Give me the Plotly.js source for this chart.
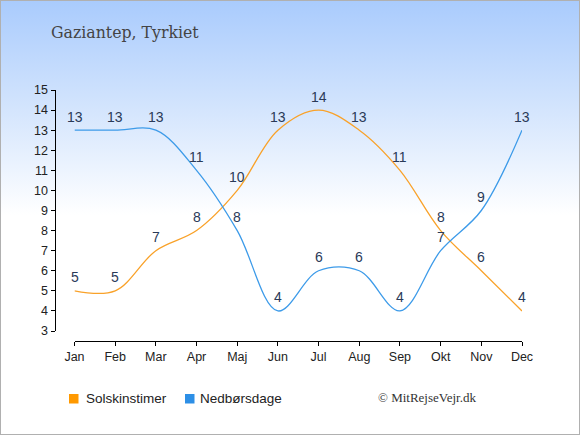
<!DOCTYPE html>
<html><head><meta charset="utf-8">
<script src="https://cdn.plot.ly/plotly-3.0.1.min.js"></script>
<style>
html,body{margin:0;padding:0;}
#wrap{position:relative;width:580px;height:435px;background:linear-gradient(to bottom,#a9cbfd 0px,#d4e5fd 110px,#ffffff 215px,#ffffff 435px);}
#chart{position:absolute;left:0;top:0;width:580px;height:435px;}
#frame{position:absolute;left:0;top:0;width:580px;height:435px;box-sizing:border-box;border:1px solid #b0b0b0;pointer-events:none;}
</style></head>
<body>
<div id="wrap"><div id="chart"></div><div id="frame"></div></div>
<script>
const months = ['Jan','Feb','Mar','Apr','Maj','Jun','Jul','Aug','Sep','Okt','Nov','Dec'];
const sunHours = [5,5,7,8,10,13,14,13,11,8,6,4];
const rainDays = [13,13,13,11,8,4,6,6,4,7,9,13];
const seriesNames = ['Solskinstimer','Nedbørsdage'];
const yTicks = [3,4,5,6,7,8,9,10,11,12,13,14,15];

const orange = '#f9a22a', blue = '#3d9be9';
const W = 580, H = 435;
const px = v => v / W, py = v => 1 - v / H;

const traces = [
  {x: months, y: sunHours, name: seriesNames[0], type:'scatter', mode:'lines',
   line:{color:orange, width:1.3, shape:'spline', smoothing:1}, showlegend:false, hoverinfo:'skip'},
  {x: months, y: rainDays, name: seriesNames[1], type:'scatter', mode:'lines',
   line:{color:blue, width:1.3, shape:'spline', smoothing:1}, showlegend:false, hoverinfo:'skip'}
];

const labelFont = {family:'Liberation Sans, Arial, sans-serif', size:14, color:'#2a3a58'};
const annotations = [];
[sunHours, rainDays].forEach(arr => arr.forEach((v,i) => {
  annotations.push({x: months[i], y: v, xref:'x', yref:'y', text: String(v), showarrow:false,
    yshift: 13.5, font: labelFont});
}));
// legend (manual)
const legFont = {family:'Liberation Sans, Arial, sans-serif', size:13.5, color:'#222'};
annotations.push({xref:'paper', yref:'paper', x:px(84), y:py(398.5), xanchor:'left', yanchor:'middle',
  text: seriesNames[0], showarrow:false, font: legFont});
annotations.push({xref:'paper', yref:'paper', x:px(198), y:py(398.5), xanchor:'left', yanchor:'middle',
  text: seriesNames[1], showarrow:false, font: legFont});
annotations.push({xref:'paper', yref:'paper', x:px(376), y:py(397.5), xanchor:'left', yanchor:'middle',
  text: '© MitRejseVejr.dk', showarrow:false, font:{family:'Liberation Serif, serif', size:13, color:'#333'}});

const shapes = [
  {type:'rect', xref:'paper', yref:'paper', x0:px(69), x1:px(78.5), y0:py(403.5), y1:py(394), fillcolor:'#ff9900', line:{width:0}},
  {type:'rect', xref:'paper', yref:'paper', x0:px(185), x1:px(194.5), y0:py(403.5), y1:py(394), fillcolor:'#2d8fe6', line:{width:0}}
];

const layout = {
  width: W, height: H,
  margin: {l:0, r:0, t:0, b:0},
  paper_bgcolor: 'rgba(0,0,0,0)', plot_bgcolor: 'rgba(0,0,0,0)',
  title: {text:'Gaziantep, Tyrkiet', x: px(51), xref:'paper', xanchor:'left', y: py(32), yref:'paper', yanchor:'middle',
    font:{family:'DejaVu Serif Condensed, DejaVu Serif, serif', size:17.5, color:'#444'}},
  xaxis: {type:'category', domain:[px(74.5), px(522)], range:[0, 11], anchor:'free', position: py(340.5),
    showline:true, linecolor:'#000', linewidth:1, ticks:'outside', ticklen:4, tickcolor:'#000',
    showgrid:false, zeroline:false, tickfont:{family:'Liberation Sans, Arial, sans-serif', size:12.5, color:'#222'},
    fixedrange:true},
  yaxis: {domain:[py(331), py(90)], range:[3, 15], anchor:'free', position: px(54.5),
    tickvals: yTicks, ticktext: yTicks.map(String),
    showline:true, linecolor:'#000', linewidth:1, ticks:'outside', ticklen:4, tickcolor:'#000',
    showgrid:false, zeroline:false, tickfont:{family:'Liberation Sans, Arial, sans-serif', size:12.5, color:'#222'},
    fixedrange:true},
  annotations: annotations,
  shapes: shapes,
  showlegend: false
};

Plotly.newPlot('chart', traces, layout, {displayModeBar:false, staticPlot:true});
</script>
</body></html>
